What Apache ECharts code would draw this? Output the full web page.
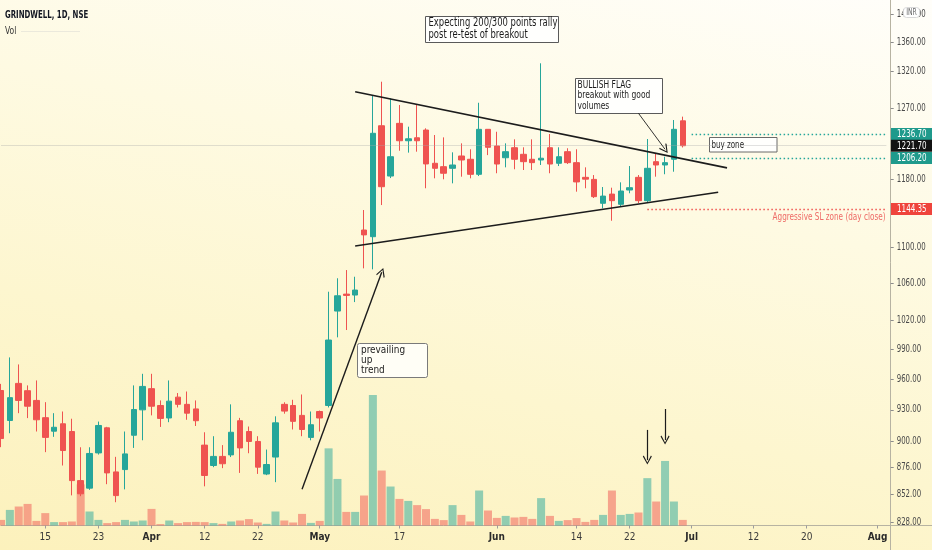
<!DOCTYPE html>
<html>
<head>
<meta charset="utf-8">
<script src="https://cdn.jsdelivr.net/npm/echarts@6/dist/echarts.min.js"></script>
<style>
  html, body { margin: 0; padding: 0; }
  #chart {
    width: 932px; height: 550px;
    background: linear-gradient(192deg, #fffefa 0%, #fefae2 35%, #fdf6cf 65%, #fcf1bc 100%);
  }
</style>
</head>
<body>
<div id="chart"></div>
<script>
// GRINDWELL daily candles (NSE), trading days plus the empty future sessions on the axis
const dates = [
  '2021-03-05','2021-03-08','2021-03-09','2021-03-10','2021-03-12','2021-03-15','2021-03-16','2021-03-17','2021-03-18','2021-03-19',
  '2021-03-22','2021-03-23','2021-03-24','2021-03-25','2021-03-26','2021-03-30','2021-03-31','2021-04-01','2021-04-05','2021-04-06',
  '2021-04-07','2021-04-08','2021-04-09','2021-04-12','2021-04-13','2021-04-15','2021-04-16','2021-04-19','2021-04-20','2021-04-22',
  '2021-04-23','2021-04-26','2021-04-27','2021-04-28','2021-04-29','2021-04-30','2021-05-03','2021-05-04','2021-05-05','2021-05-06',
  '2021-05-07','2021-05-10','2021-05-11','2021-05-12','2021-05-14','2021-05-17','2021-05-18','2021-05-19','2021-05-20','2021-05-21',
  '2021-05-24','2021-05-25','2021-05-26','2021-05-27','2021-05-28','2021-05-31','2021-06-01','2021-06-02','2021-06-03','2021-06-04',
  '2021-06-07','2021-06-08','2021-06-09','2021-06-10','2021-06-11','2021-06-14','2021-06-15','2021-06-16','2021-06-17','2021-06-18',
  '2021-06-21','2021-06-22','2021-06-23','2021-06-24','2021-06-25','2021-06-28','2021-06-29','2021-06-30','2021-07-01','2021-07-02',
  '2021-07-05','2021-07-06','2021-07-07','2021-07-08','2021-07-09','2021-07-12','2021-07-13','2021-07-14','2021-07-15','2021-07-16',
  '2021-07-19','2021-07-20','2021-07-22','2021-07-23','2021-07-26','2021-07-27','2021-07-28','2021-07-29','2021-07-30','2021-08-02',
  '2021-08-03'
];

const opens = [
  948.5, 919.5, 955.5, 948.3, 938.8, 922.2, 909.4, 916.4, 909.1, 864.1,
  857.4, 889.2, 912.6, 871.9, 874.0, 905.6, 929.7, 950.3, 933.9, 921.9,
  942.0, 935.0, 930.6, 896.4, 877.7, 886.0, 887.4, 919.3, 909.1, 899.8,
  870.0, 885.4, 935.0, 933.9, 924.4, 903.6, 928.1, 933.9, 1029.7, 1047.9,
  1046.9, 1119.7, 1112.0, 1247.2, 1184.0, 1250.3, 1228.0, 1231.8, 1241.7, 1199.7,
  1195.5, 1193.5, 1208.8, 1204.7, 1186.1, 1242.6, 1221.4, 1206.6, 1219.2, 1210.9,
  1204.7, 1203.8, 1219.2, 1199.7, 1214.2, 1200.5, 1182.4, 1179.9, 1151.1, 1162.1,
  1149.9, 1167.0, 1182.4, 1154.2, 1201.7, 1197.6, 1204.7, 1253.6
];
const closes = [
  902.5, 941.5, 938.8, 933.2, 920.2, 903.6, 913.1, 891.4, 864.1, 852.4,
  888.7, 914.8, 871.0, 850.8, 888.3, 930.0, 952.5, 933.2, 921.5, 938.1,
  935.0, 926.5, 919.3, 868.7, 886.0, 879.3, 908.4, 893.8, 899.8, 876.2,
  878.6, 917.3, 928.5, 918.7, 911.0, 915.5, 921.9, 999.3, 1046.1, 1046.5,
  1052.3, 1114.1, 1237.5, 1171.0, 1207.9, 1228.0, 1230.5, 1228.0, 1198.9, 1193.5,
  1187.4, 1197.6, 1203.8, 1186.1, 1242.6, 1219.7, 1198.8, 1214.2, 1204.7, 1201.7,
  1200.5, 1206.0, 1198.8, 1207.9, 1200.5, 1176.8, 1180.2, 1159.0, 1159.7, 1154.2,
  1165.8, 1169.8, 1154.2, 1193.5, 1197.6, 1200.5, 1242.6, 1221.7
];
const lows = [
  894.5, 907.5, 926.5, 921.8, 909.1, 889.9, 904.1, 877.7, 851.0, 850.3,
  855.9, 887.7, 860.9, 845.0, 856.3, 893.8, 900.9, 924.4, 913.4, 917.9,
  932.0, 920.2, 914.3, 859.0, 876.2, 875.3, 885.4, 871.0, 888.9, 870.1,
  869.0, 862.7, 926.0, 911.0, 904.7, 900.9, 909.1, 932.0, 1002.1, 1009.7,
  1039.3, 1076.2, 1075.1, 1149.0, 1181.5, 1215.4, 1213.0, 1214.2, 1169.1, 1181.2,
  1180.0, 1175.1, 1183.2, 1181.2, 1184.0, 1209.9, 1187.4, 1194.7, 1192.3, 1191.4,
  1191.4, 1197.6, 1187.4, 1196.3, 1198.8, 1165.0, 1169.1, 1157.4, 1145.1, 1130.5,
  1147.8, 1163.1, 1151.4, 1151.4, 1183.2, 1186.2, 1189.3, 1219.5
];
const highs = [
  955.0, 981.5, 974.4, 953.5, 958.4, 937.1, 926.5, 928.1, 921.2, 894.4,
  894.4, 918.5, 913.5, 885.6, 909.1, 953.5, 965.0, 965.0, 938.8, 958.4,
  946.0, 947.5, 938.8, 908.4, 904.7, 896.4, 935.0, 922.0, 913.8, 904.7,
  892.3, 923.5, 937.0, 939.4, 944.6, 928.1, 929.0, 1050.5, 1065.2, 1074.3,
  1066.9, 1143.1, 1286.1, 1305.3, 1283.0, 1274.2, 1246.0, 1274.2, 1243.9, 1235.3,
  1232.3, 1213.4, 1224.7, 1217.2, 1277.2, 1243.0, 1239.5, 1224.7, 1229.8, 1219.7,
  1229.8, 1330.4, 1236.6, 1219.7, 1218.5, 1217.2, 1194.7, 1185.2, 1170.6, 1169.8,
  1176.3, 1196.3, 1185.2, 1230.2, 1212.1, 1207.9, 1254.6, 1259.0
];
// daily volume, thousand shares
const volumes = [
  28, 78, 95, 108, 23, 62, 17, 17, 20, 206,
  70, 28, 12, 17, 28, 20, 25, 83, 7, 25,
  12, 17, 18, 17, 12, 8, 20, 25, 32, 15,
  8, 70, 25, 15, 58, 13, 23, 386, 233, 68,
  68, 150, 653, 275, 195, 133, 123, 102, 82, 33,
  27, 102, 53, 20, 175, 75, 38, 48, 40, 43,
  33, 137, 48, 23, 27, 37, 18, 28, 53, 175,
  53, 58, 65, 237, 120, 323, 120, 28
];

// time-axis labels
const labelDates = ['2021-03-15','2021-03-23','2021-04-01','2021-04-12','2021-04-22','2021-05-03','2021-05-17',
                    '2021-06-01','2021-06-14','2021-06-22','2021-07-01','2021-07-12','2021-07-20','2021-08-02'];
const labelTexts = ['15','23','Apr','12','22','May','17','Jun','14','22','Jul','12','20','Aug'];
const monthTexts = ['Apr','May','Jun','Jul','Aug'];

// price-scale labels
const priceTicks = [1400, 1360, 1320, 1270, 1180, 1100, 1060, 1020, 990, 960, 930, 900, 876, 852, 828];
// flagged levels: buy zone top, last price, buy zone bottom, stop loss
const levelValues = [1236.70, 1221.70, 1206.20, 1144.35];
const levelColors = ['#1f9a8c', '#131313', '#1f9a8c', '#ef443c'];

const UP = '#26a69a', DOWN = '#ef5350';
const UP_VOL = 'rgba(38,166,154,0.5)', DOWN_VOL = 'rgba(239,83,80,0.5)';
const FONT = '"DejaVu Sans Condensed", "DejaVu Sans", sans-serif';
const INK = '#1c1c1c';
const AXIS = '#b7b3a2';
const CHEVRON = 'path://M5,0L10,9L9,10L5,2.4L1,10L0,9Z';
const LAST = dates.length - 1;

const candleData = opens.map((o, i) => [o, closes[i], lows[i], highs[i]]);

function seg(i1, p1, i2, p2, endSymbol, width) {
  return [
    { coord: [dates[i1], p1], symbol: 'none',
      lineStyle: { color: INK, width: width, type: 'solid' }, label: { show: false } },
    { coord: [dates[i2], p2], symbol: endSymbol || 'none', symbolSize: [9, 9] }
  ];
}

function dotted(from, value, color) {
  return [
    { coord: [dates[from], value], symbol: 'none',
      lineStyle: { color: color, width: 1.4, type: [1.5, 2.5] }, label: { show: false } },
    { coord: [dates[LAST], value], symbol: 'none' }
  ];
}

const markData = [
  // last traded price
  { yAxis: levelValues[1], lineStyle: { color: 'rgba(170,170,170,0.35)', width: 1, type: 'solid' }, label: { show: false } },
  dotted(78, levelValues[0], UP),
  dotted(78, levelValues[2], UP),
  dotted(73, levelValues[3], DOWN),
  // flag boundaries
  seg(40, 1291.9, 82, 1194.0, null, 1.6),
  seg(40, 1101.3, 81, 1164.3, null, 1.6),
  // prevailing up trend arrow
  seg(34, 856.5, 43, 1071.8, CHEVRON, 1.4),
  // arrows over the breakout volumes
  seg(73, 910.6, 73, 882.6, CHEVRON, 1.2),
  seg(75, 930.5, 75, 901.1, CHEVRON, 1.2),
  // flag note pointer
  seg(72, 1263.3, 75, 1217.2, CHEVRON, 0.9)
];

// labels on the price scale, placed through the price axis
function renderTick(params, api) {
  const p = api.coord([api.value(0), api.value(1)]);
  const x0 = p[0] + 4.3;
  const yl = Math.round(p[1]) + 0.5;
  return {
    type: 'group',
    children: [
      { type: 'line', shape: { x1: x0, y1: yl, x2: x0 + 3, y2: yl }, style: { stroke: '#8c8c8c', lineWidth: 1 } },
      { type: 'text', x: x0 + 6, y: p[1], scaleX: 0.74,
        style: { text: api.value(1).toFixed(2), fill: '#4a4a4a', font: '10.5px ' + FONT, verticalAlign: 'middle' } }
    ]
  };
}
function renderBadge(params, api) {
  const p = api.coord([api.value(0), api.value(1)]);
  const x0 = p[0] + 4.6;
  return {
    type: 'group',
    children: [
      { type: 'rect', shape: { x: x0, y: p[1] - 6, width: 932 - x0, height: 12 },
        style: { fill: levelColors[params.dataIndex] } },
      { type: 'text', x: x0 + 6, y: p[1] + 0.5, scaleX: 0.76,
        style: { text: api.value(1).toFixed(2), fill: '#ffffff', font: '10.5px ' + FONT, verticalAlign: 'middle' } }
    ]
  };
}

const chart = echarts.init(document.getElementById('chart'), null, { renderer: 'canvas' });

chart.setOption({
  backgroundColor: 'transparent',
  animation: false,
  grid: { left: 1, right: 45.6, top: 0, bottom: 24.5 },
  xAxis: {
    type: 'category',
    data: dates,
    boundaryGap: false,
    axisLine: { lineStyle: { color: AXIS, width: 1 } },
    axisTick: {
      show: true, length: 3,
      interval: (idx, val) => labelDates.indexOf(val) >= 0,
      lineStyle: { color: '#9c9c9c' }
    },
    axisLabel: {
      interval: (idx, val) => labelDates.indexOf(val) >= 0,
      formatter: (val) => {
        const t = labelTexts[labelDates.indexOf(val)] || '';
        return monthTexts.indexOf(t) >= 0 ? '{m|' + t + '}' : t;
      },
      color: '#3a3a3a', fontSize: 10, fontFamily: FONT, margin: 7,
      rich: { m: { fontWeight: 'bold', color: '#2a2a2a', fontSize: 10, fontFamily: FONT } }
    },
    splitLine: { show: false }
  },
  yAxis: [
    {
      type: 'log', logBase: 10, min: 824.9, max: 1420.4,
      position: 'right', offset: 4,
      axisLine: { show: true, lineStyle: { color: AXIS, width: 1 } },
      axisTick: { show: false }, axisLabel: { show: false }, splitLine: { show: false }
    },
    { type: 'value', min: 0, max: 2630, show: false }
  ],
  series: [
    {
      name: 'Vol', type: 'bar', yAxisIndex: 1, barWidth: 8,
      data: volumes,
      itemStyle: { color: (p) => closes[p.dataIndex] >= opens[p.dataIndex] ? UP_VOL : DOWN_VOL },
      silent: true
    },
    {
      name: 'GRINDWELL', type: 'candlestick', yAxisIndex: 0, barWidth: 6,
      data: candleData,
      itemStyle: { color: UP, color0: DOWN, borderColor: UP, borderColor0: DOWN, borderWidth: 1 },
      silent: true,
      markLine: { silent: true, animation: false, symbol: ['none', 'none'], data: markData }
    },
    {
      name: 'scale', type: 'custom', yAxisIndex: 0, silent: true, clip: false, z: 10,
      data: priceTicks.map(v => [dates[LAST], v]),
      renderItem: renderTick
    },
    {
      name: 'levels', type: 'custom', yAxisIndex: 0, silent: true, clip: false, z: 11,
      data: levelValues.map(v => [dates[LAST], v]),
      renderItem: renderBadge
    }
  ],
  graphic: [
    // frame extensions into the scale areas
    { type: 'line', shape: { x1: 886, y1: 525.5, x2: 932, y2: 525.5 }, style: { stroke: AXIS, lineWidth: 1 }, silent: true },
    { type: 'line', shape: { x1: 890.5, y1: 525.5, x2: 890.5, y2: 550 }, style: { stroke: AXIS, lineWidth: 1 }, silent: true },
    // header
    { type: 'text', x: 5, y: 9.5, scaleX: 0.74, silent: true,
      style: { text: 'GRINDWELL, 1D, NSE', font: 'bold 10.5px ' + FONT, fill: '#131722' } },
    { type: 'text', x: 5, y: 25.5, scaleX: 0.8, silent: true,
      style: { text: 'Vol', font: '10.5px ' + FONT, fill: '#333333' } },
    { type: 'line', shape: { x1: 21, y1: 31.5, x2: 80, y2: 31.5 }, style: { stroke: 'rgba(200,200,200,0.35)', lineWidth: 1 }, silent: true },
    // currency badge over the top of the price scale
    { type: 'rect', z: 100, shape: { x: 903.5, y: 7.5, width: 16, height: 10, r: 3 }, silent: true,
      style: { fill: '#ffffff', stroke: '#d9d9d9', lineWidth: 1 } },
    { type: 'text', z: 101, x: 911.5, y: 12.5, scaleX: 0.85, silent: true,
      style: { text: 'INR', font: '8px ' + FONT, fill: '#6a6a6a', align: 'center', verticalAlign: 'middle' } },
    // notes
    { type: 'rect', shape: { x: 425.5, y: 16.5, width: 133, height: 26 }, silent: true,
      style: { fill: '#fffffd', stroke: '#5a5a5a', lineWidth: 1 } },
    { type: 'text', x: 428.5, y: 16.5, scaleX: 0.78, silent: true,
      style: { text: 'Expecting 200/300 points rally\npost re-test of breakout', font: '12px ' + FONT,
               fill: INK, lineHeight: 12 } },
    { type: 'rect', shape: { x: 357.5, y: 343.5, width: 70, height: 34, r: 2 }, silent: true,
      style: { fill: '#fffef6', stroke: '#7a7a7a', lineWidth: 1 } },
    { type: 'text', x: 361, y: 345, scaleX: 0.9, silent: true,
      style: { text: 'prevailing\nup\ntrend', font: '11px ' + FONT, fill: INK, lineHeight: 10 } },
    { type: 'rect', shape: { x: 575.5, y: 78.5, width: 87, height: 35 }, silent: true,
      style: { fill: '#fffffd', stroke: '#5a5a5a', lineWidth: 1 } },
    { type: 'text', x: 577.5, y: 79.5, scaleX: 0.76, silent: true,
      style: { text: 'BULLISH FLAG\nbreakout with good\nvolumes', font: '11px ' + FONT, fill: INK, lineHeight: 10.5 } },
    { type: 'rect', shape: { x: 709.5, y: 137.5, width: 67.5, height: 14.5 }, silent: true,
      style: { fill: '#fffffd', stroke: '#6a6a6a', lineWidth: 1 } },
    { type: 'text', x: 711.5, y: 144.8, scaleX: 0.72, silent: true,
      style: { text: 'buy zone', font: '11px ' + FONT, fill: INK, verticalAlign: 'middle' } },
    { type: 'text', x: 885.5, y: 217.3, scaleX: 0.77, silent: true,
      style: { text: 'Aggressive SL zone (day close)', font: '10.5px ' + FONT,
               fill: 'rgba(236,90,88,0.9)', align: 'right', verticalAlign: 'middle' } }
  ]
});
</script>
</body>
</html>
